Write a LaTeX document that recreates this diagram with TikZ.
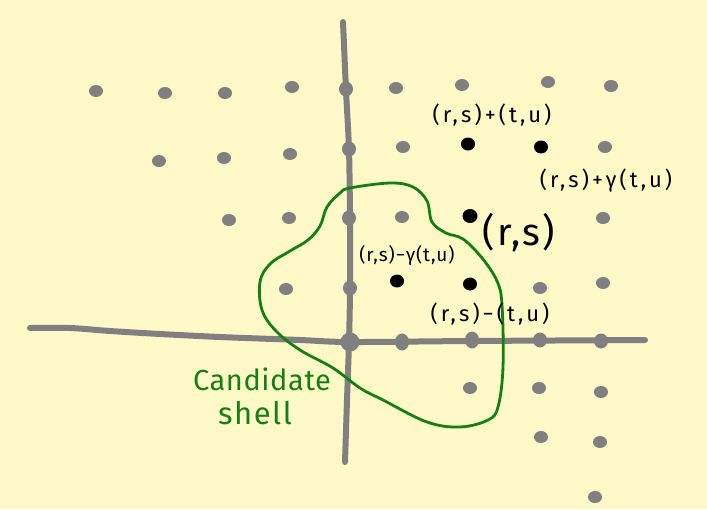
\documentclass[tikz,border=0pt]{standalone}
\usepackage{fontspec}
\setmainfont{Fira Sans}
\usetikzlibrary{shapes.geometric}
\definecolor{bgyellow}{RGB}{255,249,199}
\definecolor{dotgrey}{RGB}{128,128,128}
\definecolor{shellgreen}{RGB}{18,128,18}
\tikzset{
  gdot/.style={ellipse, fill=dotgrey, inner sep=0pt, minimum width=14pt, minimum height=12pt},
  adot/.style={ellipse, fill=dotgrey, inner sep=0pt, minimum width=14pt, minimum height=15pt},
  bdot/.style={ellipse, fill=black, inner sep=0pt, minimum width=14pt, minimum height=13pt},
  axisline/.style={line width=6pt, draw=dotgrey, line cap=round},
  shellline/.style={line width=2.8pt, draw=shellgreen, line join=round},
  lab/.style={inner sep=0pt, font=\fontsize{22}{22}\selectfont\addfontfeature{LetterSpace=14}},
  glab/.style={inner sep=0pt, text=shellgreen, font=\fontsize{29}{29}\selectfont\addfontfeature{LetterSpace=2}}
}
\begin{document}
\begin{tikzpicture}[x=1pt,y=-1pt]
\fill[bgyellow] (0,0) rectangle (707,509);
\useasboundingbox (0,0) rectangle (707,509);
% axes
\draw[axisline] plot[smooth] coordinates {(343,22) (346,90) (349,150) (350,220) (350,290) (349,342) (347,400) (345,462)};
\draw[axisline] plot[smooth] coordinates {(30,328) (70,328) (110,331) (160,334) (220,337) (300,340) (350,342) (470,341) (645,340)};
% row 1
\node[gdot] (d11) at (96,91) {};
\node[gdot] (d12) at (165,93) {};
\node[gdot] (d13) at (225,93) {};
\node[gdot] (d14) at (292,87) {};
\node[adot] (d15) at (346,89) {};
\node[gdot] (d16) at (396,88) {};
\node[gdot] (d17) at (462,85) {};
\node[gdot] (d18) at (548,82) {};
\node[gdot] (d19) at (611,86) {};
% row 2
\node[gdot] (d21) at (159,161) {};
\node[gdot] (d22) at (224,158) {};
\node[gdot] (d23) at (290,154) {};
\node[adot] (d24) at (349,149) {};
\node[gdot] (d25) at (403,147) {};
\node[bdot] (b1) at (468,144) {};
\node[bdot] (b2) at (541,147) {};
\node[gdot] (d28) at (605,147) {};
% row 3
\node[gdot] (d31) at (229,220) {};
\node[gdot] (d32) at (289,218) {};
\node[adot] (d33) at (349,218) {};
\node[gdot] (d34) at (402,217) {};
\node[bdot, minimum width=15pt, minimum height=14pt] (rs) at (470,216) {};
\node[gdot] (d36) at (603,218) {};
% row 4
\node[gdot] (d41) at (286,289) {};
\node[adot] (d42) at (350,288) {};
\node[bdot] (b3) at (397,281) {};
\node[bdot] (b4) at (470,284) {};
\node[gdot] (d45) at (540,288) {};
\node[gdot] (d46) at (603,283) {};
% row 5 (axis)
\node[adot, minimum width=19pt, minimum height=19pt] (o) at (350,342) {};
\node[adot, minimum height=17pt] (d52) at (402,342) {};
\node[adot, minimum height=17pt] (d53) at (472,340) {};
\node[adot] (d54) at (540,340) {};
\node[adot] (d55) at (601,341) {};
% row 6-8
\node[gdot] (d61) at (470,388) {};
\node[gdot] (d62) at (539,388) {};
\node[gdot] (d63) at (601,392) {};
\node[gdot] (d71) at (541,437) {};
\node[gdot] (d72) at (600,442) {};
\node[gdot] (d81) at (595,497) {};
% shell
\draw[shellline] plot[smooth cycle, tension=0.6] coordinates {
 (350,188) (390,183) (413,187) (427,201) (432,222) (446,233) (463,239) (482,258) (497,281) (502,305)
 (503,367) (498,407) (488,420) (460,427) (427,422) (383,400) (360,388) (333,368) (300,350)
 (276,331) (262,310) (260,282) (270,264) (290,251) (308,240) (320,226) (327,207) (340,193)};
% labels
\node[lab] (l1) at (492,115) {(r,s)+(t,u)};
\node[lab] (l2) at (606,181) {(r,s)+γ(t,u)};
\node[lab, font=\fontsize{38}{38}\selectfont\addfontfeature{LetterSpace=6}] (l3) at (519,233) {(r,s)};
\node[lab, font=\fontsize{19}{19}\selectfont\addfontfeature{LetterSpace=5}] (l4) at (407,256) {(r,s)−γ(t,u)};
\node[lab] (l5) at (490,314) {(r,s)−(t,u)};
\node[glab] (g1) at (262,379) {Candidate};
\node[glab, font=\fontsize{31}{31}\selectfont\addfontfeature{LetterSpace=5}] (g2) at (255,413) {shell};
\end{tikzpicture}
\end{document}
